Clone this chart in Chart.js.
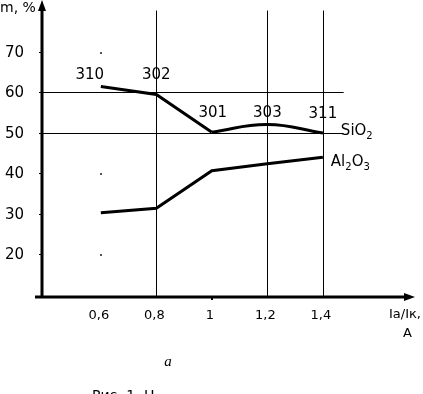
<!DOCTYPE html>
<html>
<head>
<meta charset="utf-8">
<script src="https://cdn.jsdelivr.net/npm/chart.js@4"></script>
<style>
  html, body { margin: 0; padding: 0; background: #fff; }
  #wrap { width: 423px; height: 394px; }
</style>
</head>
<body>
<div id="wrap"><canvas id="grafica" width="423" height="394"></canvas></div>
<script>
// data
const xVals = [0.6, 0.8, 1.0, 1.2, 1.4];
const xTickLabels = ["0,6", "0,8", "1", "1,2", "1,4"];
const yTicks = [20, 30, 40, 50, 60, 70];
const sio2 = [61.5, 59.5, 50.2, 52.1, 50.0];
const al2o3 = [30.3, 31.4, 40.7, 42.4, 44.0];
const pointLabels = ["310", "302", "301", "303", "311"];
const gridX = [0.8, 1.2, 1.4];
const gridY = [60, 50];
const dotY = [70, 40, 20];

const pts = (ys, from, to) => xVals.slice(from, to).map((x, i) => ({ x: x, y: ys[from + i] }));

const FONT = "DejaVu Sans";

const drawExtras = {
  id: "drawExtras",
  beforeDatasetsDraw(chart) {
    const { ctx, chartArea: a, scales: { x, y } } = chart;
    ctx.save();
    ctx.strokeStyle = "#000";
    ctx.lineWidth = 1;
    // vertical lines
    gridX.forEach(v => {
      const px = Math.round(x.getPixelForValue(v)) + 0.5;
      ctx.beginPath();
      ctx.moveTo(px, a.top - 1);
      ctx.lineTo(px, a.bottom);
      ctx.stroke();
    });
    // horizontal lines
    gridY.forEach(v => {
      const py = Math.round(y.getPixelForValue(v)) + 0.5;
      ctx.beginPath();
      ctx.moveTo(a.left, py);
      ctx.lineTo(x.getPixelForValue(1.475), py);
      ctx.stroke();
    });
    // stray dots
    ctx.fillStyle = "#555";
    dotY.forEach(v => {
      ctx.fillRect(Math.round(x.getPixelForValue(0.6)) - 1, Math.round(y.getPixelForValue(v)), 2, 2);
    });
    ctx.restore();
  },
  afterDatasetsDraw(chart) {
    const { ctx, chartArea: a, scales: { x, y } } = chart;
    ctx.save();
    ctx.fillStyle = "#000";
    ctx.strokeStyle = "#000";

    // axes
    ctx.lineWidth = 3;
    ctx.beginPath();
    ctx.moveTo(a.left, 8);
    ctx.lineTo(a.left, a.bottom);
    ctx.moveTo(a.left - 7, a.bottom);
    ctx.lineTo(a.right - 8, a.bottom);
    ctx.stroke();
    // arrow heads
    ctx.beginPath();
    ctx.moveTo(a.left, 0);
    ctx.lineTo(a.left - 4, 11);
    ctx.lineTo(a.left + 4, 11);
    ctx.closePath();
    ctx.fill();
    ctx.beginPath();
    ctx.moveTo(a.right, a.bottom);
    ctx.lineTo(a.right - 11, a.bottom - 4);
    ctx.lineTo(a.right - 11, a.bottom + 4);
    ctx.closePath();
    ctx.fill();
    ctx.fillRect(Math.round(x.getPixelForValue(1.0)) - 1, a.bottom + 1, 2, 2);

    // y ticks and labels
    ctx.lineWidth = 1;
    ctx.font = "15px " + FONT;
    ctx.textAlign = "right";
    ctx.textBaseline = "middle";
    yTicks.forEach(v => {
      const py = Math.round(y.getPixelForValue(v)) + 0.5;
      ctx.beginPath();
      ctx.moveTo(a.left - 3, py);
      ctx.lineTo(a.left, py);
      ctx.stroke();
      ctx.fillText(String(v), a.left - 18, py + 1);
    });

    // x labels
    ctx.font = "13px " + FONT;
    ctx.textAlign = "center";
    xVals.forEach((v, i) => {
      ctx.fillText(xTickLabels[i], x.getPixelForValue(v) - 2, a.bottom + 19);
    });

    // point labels
    ctx.font = "15px " + FONT;
    ctx.textBaseline = "middle";
    const offs = [[-11, -11], [0, -19], [1, -19], [0, -11], [0, -19]];
    xVals.forEach((v, i) => {
      ctx.fillText(pointLabels[i], x.getPixelForValue(v) + offs[i][0], y.getPixelForValue(sio2[i]) + offs[i][1]);
    });

    // series names with subscripts
    const sub = (parts, px, py) => {
      ctx.textAlign = "left";
      ctx.textBaseline = "alphabetic";
      parts.forEach(([t, s]) => {
        ctx.font = (s ? "10px " : "15px ") + FONT;
        ctx.fillText(t, px, py + (s ? 4 : 0));
        px += ctx.measureText(t).width;
      });
    };
    const xEnd = x.getPixelForValue(1.4);
    sub([["SiO", 0], ["2", 1]], xEnd + 18, y.getPixelForValue(sio2[4]) + 2);
    sub([["Al", 0], ["2", 1], ["O", 0], ["3", 1]], xEnd + 8, y.getPixelForValue(al2o3[4]) + 9);

    // axis titles
    ctx.font = "14px " + FONT;
    ctx.textAlign = "left";
    ctx.textBaseline = "middle";
    ctx.fillText("m, %", 0, 8);
    ctx.font = "13px " + FONT;
    ctx.textAlign = "right";
    ctx.fillText("Ia/Iк,", 421, a.bottom + 18);
    ctx.fillText("A", 412, a.bottom + 37);

    // caption
    ctx.font = "italic 15px 'Liberation Serif'";
    ctx.textAlign = "center";
    ctx.fillText("a", 168, 362);
    ctx.font = "14px " + FONT;
    ctx.textAlign = "left";
    ctx.textBaseline = "alphabetic";
    ctx.fillText("Рис. 1. Н", 92, 400);
    ctx.restore();
  }
};

new Chart(document.getElementById("grafica").getContext("2d"), {
  type: "line",
  data: {
    datasets: [
      { data: pts(sio2, 0, 3), tension: 0 },
      { data: pts(sio2, 2, 5), tension: 0.45 },
      { data: pts(al2o3, 0, 5), tension: 0 }
    ]
  },
  options: {
    responsive: false,
    animation: false,
    layout: { padding: { left: 42, right: 8, top: 11.5, bottom: 97 } },
    elements: {
      line: { borderColor: "#000", borderWidth: 3, fill: false, cubicInterpolationMode: "default" },
      point: { radius: 0 }
    },
    scales: {
      x: { type: "linear", min: 0.388, max: 1.732, display: false },
      y: { type: "linear", min: 9.5, max: 80, display: false }
    },
    plugins: { legend: { display: false }, tooltip: { enabled: false } }
  },
  plugins: [drawExtras]
});
</script>
</body>
</html>
